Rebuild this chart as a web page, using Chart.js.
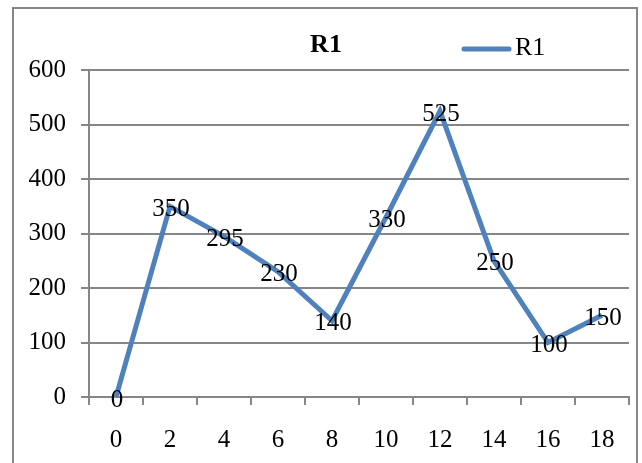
<!DOCTYPE html>
<html>
<head>
<meta charset="utf-8">
<title>R1</title>
<script src="https://cdn.jsdelivr.net/npm/chart.js@4/dist/chart.umd.min.js"></script>
<style>
  html, body { margin: 0; padding: 0; background: #ffffff; }
  #wrap { width: 642px; height: 463px; }
</style>
</head>
<body>
<div id="wrap"><canvas id="chart" width="642" height="463"></canvas></div>
<script>
// Series data
const categories = ['0', '2', '4', '6', '8', '10', '12', '14', '16', '18'];
const r1Values = [0, 350, 295, 230, 140, 330, 525, 250, 100, 150];
const seriesName = 'R1';
const chartTitle = 'R1';
const yMin = 0;
const yMax = 600;
const yStep = 100;

const FONT = "'Liberation Serif', 'Times New Roman', serif";
const GRID = '#868686';
const LINE = '#4F81BD';

// Outer frame around the whole chart
const framePlugin = {
  id: 'frame',
  beforeDraw(chart) {
    const ctx = chart.ctx;
    ctx.save();
    ctx.fillStyle = '#ffffff';
    ctx.fillRect(0, 0, chart.width, chart.height);
    ctx.strokeStyle = GRID;
    ctx.lineWidth = 2;
    ctx.strokeRect(13, 8, 624, 480);
    ctx.restore();
  }
};

// Value printed centred on each point
const valueLabels = {
  id: 'valueLabels',
  afterDatasetsDraw(chart) {
    const ctx = chart.ctx;
    ctx.save();
    ctx.font = '25px ' + FONT;
    ctx.fillStyle = '#000000';
    ctx.textAlign = 'center';
    ctx.textBaseline = 'middle';
    chart.data.datasets.forEach((ds, i) => {
      const meta = chart.getDatasetMeta(i);
      meta.data.forEach((pt, j) => {
        ctx.fillText(String(ds.data[j]), pt.x + 1, pt.y + 3);
      });
    });
    ctx.restore();
  }
};

// Legend entry on the title row, to the right
const sideLegend = {
  id: 'sideLegend',
  afterDraw(chart) {
    const ctx = chart.ctx;
    const ds = chart.data.datasets[0];
    ctx.save();
    ctx.strokeStyle = ds.borderColor;
    ctx.lineWidth = 5;
    ctx.lineCap = 'round';
    ctx.beginPath();
    ctx.moveTo(464, 49);
    ctx.lineTo(509, 49);
    ctx.stroke();
    ctx.font = '26px ' + FONT;
    ctx.fillStyle = '#000000';
    ctx.textAlign = 'left';
    ctx.textBaseline = 'middle';
    ctx.fillText(ds.label, 515, 48);
    ctx.restore();
  }
};

new Chart(document.getElementById('chart'), {
  type: 'line',
  data: {
    labels: categories,
    datasets: [{
      label: seriesName,
      data: r1Values,
      borderColor: LINE,
      backgroundColor: LINE,
      borderWidth: 5,
      pointRadius: 0,
      pointHoverRadius: 0,
      tension: 0,
      fill: false,
      borderJoinStyle: 'miter',
      borderCapStyle: 'butt'
    }]
  },
  options: {
    responsive: false,
    animation: false,
    events: [],
    layout: { padding: { left: 23, right: 13, top: 0, bottom: 0 } },
    plugins: {
      legend: { display: false },
      tooltip: { enabled: false },
      title: {
        display: true,
        text: chartTitle,
        color: '#000000',
        font: { family: FONT, size: 26, weight: 'bold', lineHeight: 1.2 },
        padding: { top: 30, bottom: 9 }
      }
    },
    scales: {
      x: {
        type: 'category',
        offset: true,
        afterFit(scale) { scale.height = 66; },
        grid: {
          offset: true,
          drawOnChartArea: false,
          drawTicks: true,
          tickLength: 8,
          color: GRID,
          lineWidth: 2
        },
        border: { display: true, color: GRID, width: 2 },
        ticks: {
          color: '#000000',
          font: { family: FONT, size: 25 },
          padding: 20,
          maxRotation: 0,
          autoSkip: false
        }
      },
      y: {
        min: yMin,
        max: yMax,
        afterFit(scale) { scale.width = 66; },
        grid: {
          color: GRID,
          lineWidth: 2,
          drawTicks: true,
          tickLength: 8
        },
        border: { display: true, color: GRID, width: 2 },
        ticks: {
          stepSize: yStep,
          color: '#000000',
          font: { family: FONT, size: 25 },
          padding: 15
        }
      }
    }
  },
  plugins: [framePlugin, valueLabels, sideLegend]
});
</script>
</body>
</html>
